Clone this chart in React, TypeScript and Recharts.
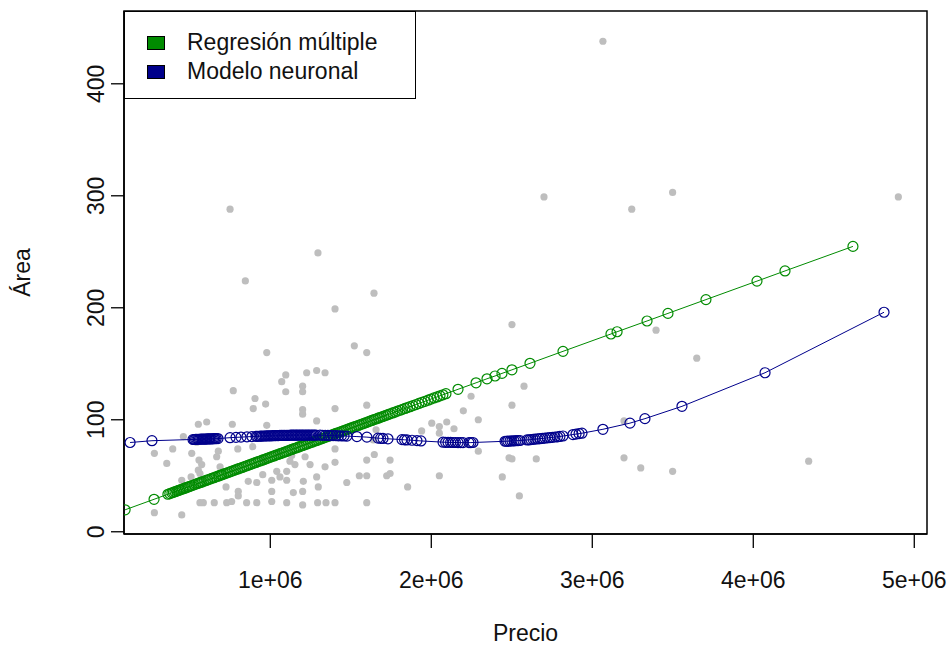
import { ScatterChart, Scatter, XAxis, YAxis, ReferenceArea, Legend } from 'recharts';

// puntos observados (Precio, Área)
const precioObs = [
  978000, 1096000, 1071000, 1226000, 1288000, 770000, 1096000, 1201000, 1201000, 905000,
  971000, 894000, 1201000, 1201000, 1288000, 553000, 605000, 764000, 460000, 394000,
  280000, 512000, 677000, 667000, 798000, 891000, 557000, 574000, 357000, 688000,
  957000, 1050000, 1133000, 1216000, 1122000, 1153000, 1247000, 553000, 563000, 450000,
  508000, 1040000, 1060000, 1102000, 1102000, 953000, 1009000, 863000, 916000, 801000,
  801000, 725000, 1205000, 1143000, 1201000, 1009000, 563000, 584000, 652000, 729000,
  760000, 853000, 916000, 1009000, 1102000, 1201000, 280000, 450000, 1522000, 1599000,
  1340000, 1402000, 1599000, 2199000, 2247000, 2292000, 2096000, 2050000, 2050000, 2141000,
  2003000, 1940000, 1657000, 2292000, 2483000, 1646000, 1599000, 1744000, 1402000, 1340000,
  1288000, 1298000, 1553000, 1599000, 1723000, 1744000, 2050000, 1475000, 1853000, 2441000,
  1294000, 1346000, 1402000, 1599000, 1402000, 750000, 1296000, 845000, 1644000, 1402000,
  2501000, 2700000, 3499000, 3245000, 4901000, 3066000, 3396000, 3649000, 2576000, 2501000,
  2501000, 2652000, 3197000, 3301000, 3499000, 4344000, 2547000, 3197000, 543000, 978000,
  1640000,
];
const areaObs = [
  160, 140, 134, 142, 144, 126, 125, 130, 125, 119,
  114, 110, 109, 105, 99, 96, 98, 96, 85, 74,
  70, 70, 72, 67, 74, 76, 64, 60, 61, 58,
  65, 70, 68, 67, 63, 60, 60, 55, 52, 46,
  49, 54, 49, 54, 46, 51, 46, 45, 44, 36,
  32, 40, 45, 35, 36, 36, 26, 26, 26, 26,
  27, 26, 26, 27, 26, 24, 17, 15, 166, 160,
  142, 110, 113, 108, 121, 100, 98, 94, 88, 92,
  97, 90, 91, 72, 66, 69, 64, 64, 62, 58,
  49, 40, 50, 50, 50, 52, 50, 44, 40, 49,
  26, 26, 26, 26, 74, 288, 249, 224, 213, 199,
  185, 299, 303, 288, 299, 438, 180, 155, 130, 113,
  65, 65, 66, 57, 54, 63, 32, 99, 80, 95,
  82,
];

// Regresión múltiple (predicciones)
const precioReg = [
  98000, 278000, 364000, 376000, 389000, 398000, 408000, 419000, 427000, 436000,
  445000, 455000, 464000, 473000, 483000, 492000, 501000, 513000, 526000, 538000,
  551000, 560000, 569000, 576000, 588000, 601000, 612000, 625000, 637000, 650000,
  662000, 675000, 684000, 693000, 700000, 712000, 725000, 737000, 750000, 762000,
  775000, 787000, 799000, 811000, 824000, 836000, 849000, 861000, 874000, 886000,
  899000, 911000, 924000, 936000, 949000, 961000, 973000, 985000, 998000, 1010000,
  1023000, 1035000, 1048000, 1060000, 1073000, 1085000, 1098000, 1110000, 1122000, 1134000,
  1147000, 1159000, 1172000, 1184000, 1197000, 1209000, 1222000, 1234000, 1247000, 1259000,
  1272000, 1284000, 1296000, 1308000, 1321000, 1333000, 1346000, 1358000, 1371000, 1383000,
  1396000, 1408000, 1421000, 1433000, 1445000, 1457000, 1470000, 1482000, 1495000, 1507000,
  1520000, 1532000, 1545000, 1557000, 1570000, 1582000, 1595000, 1607000, 1619000, 1631000,
  1644000, 1656000, 1669000, 1681000, 1694000, 1706000, 1719000, 1731000, 1744000, 1760000,
  1775000, 1790000, 1806000, 1821000, 1837000, 1852000, 1868000, 1886000, 1905000, 1923000,
  1942000, 1961000, 1980000, 1998000, 2017000, 2036000, 2054000, 2072000, 2091000, 2166000,
  2278000, 2346000, 2396000, 2439000, 2501000, 2613000, 2818000, 3116000, 3154000, 3340000,
  3470000, 3706000, 4023000, 4197000, 4619000,
];
const areaReg = [
  19.6, 29.0, 33.5, 34.1, 34.8, 35.2, 35.8, 36.3, 36.7, 37.2,
  37.7, 38.2, 38.7, 39.1, 39.7, 40.1, 40.6, 41.2, 41.9, 42.5,
  43.2, 43.7, 44.1, 44.5, 45.1, 45.8, 46.4, 47.0, 47.7, 48.3,
  49.0, 49.6, 50.1, 50.6, 50.9, 51.6, 52.2, 52.9, 53.5, 54.2,
  54.8, 55.5, 56.1, 56.7, 57.4, 58.0, 58.7, 59.3, 60.0, 60.6,
  61.3, 61.9, 62.6, 63.2, 63.9, 64.5, 65.1, 65.8, 66.4, 67.1,
  67.7, 68.4, 69.0, 69.7, 70.3, 71.0, 71.6, 72.3, 72.9, 73.5,
  74.2, 74.8, 75.5, 76.1, 76.8, 77.4, 78.1, 78.7, 79.4, 80.0,
  80.7, 81.3, 81.9, 82.6, 83.2, 83.9, 84.5, 85.2, 85.8, 86.5,
  87.1, 87.8, 88.4, 89.1, 89.7, 90.3, 91.0, 91.6, 92.3, 92.9,
  93.6, 94.2, 94.9, 95.5, 96.2, 96.8, 97.5, 98.1, 98.8, 99.4,
  100.1, 100.7, 101.4, 102.0, 102.7, 103.3, 104.0, 104.6, 105.3, 106.1,
  106.9, 107.7, 108.5, 109.3, 110.1, 110.9, 111.7, 112.6, 113.6, 114.6,
  115.6, 116.5, 117.5, 118.5, 119.5, 120.4, 121.4, 122.3, 123.3, 127.2,
  133.0, 136.6, 139.1, 141.4, 144.6, 150.4, 161.1, 176.6, 178.6, 188.2,
  195.0, 207.3, 223.8, 232.9, 254.8,
];

// Modelo neuronal (predicciones)
const precioNN = [
  129000, 265000, 520000, 528000, 536000, 544000, 552000, 560000, 568000, 576000,
  584000, 592000, 600000, 608000, 616000, 624000, 632000, 640000, 648000, 656000,
  664000, 675000, 750000, 787000, 818000, 855000, 886000, 911000, 920000, 930000,
  939000, 948000, 958000, 967000, 976000, 986000, 995000, 1005000, 1014000, 1023000,
  1032000, 1042000, 1051000, 1060000, 1070000, 1079000, 1088000, 1098000, 1107000, 1116000,
  1126000, 1135000, 1144000, 1154000, 1163000, 1172000, 1182000, 1191000, 1200000, 1209000,
  1219000, 1228000, 1237000, 1246000, 1256000, 1265000, 1274000, 1284000, 1309000, 1325000,
  1341000, 1358000, 1374000, 1390000, 1408000, 1424000, 1441000, 1458000, 1476000, 1538000,
  1600000, 1669000, 1685000, 1700000, 1731000, 1818000, 1834000, 1849000, 1880000, 1911000,
  1936000, 2073000, 2089000, 2104000, 2120000, 2135000, 2150000, 2166000, 2182000, 2197000,
  2234000, 2246000, 2259000, 2458000, 2467000, 2476000, 2489000, 2501000, 2514000, 2526000,
  2539000, 2551000, 2595000, 2607000, 2619000, 2632000, 2644000, 2660000, 2675000, 2690000,
  2706000, 2722000, 2737000, 2752000, 2768000, 2784000, 2799000, 2818000, 2880000, 2899000,
  2918000, 2936000, 3066000, 3234000, 3327000, 3557000, 4073000, 4812000,
];
const areaNN = [
  79.7, 81.3, 82.4, 82.4, 82.5, 82.5, 82.6, 82.6, 82.7, 82.7,
  82.8, 82.8, 82.8, 82.9, 82.9, 83.0, 83.0, 83.0, 83.1, 83.1,
  83.2, 83.2, 84.0, 84.3, 84.5, 84.8, 85.0, 85.2, 85.2, 85.3,
  85.4, 85.4, 85.5, 85.5, 85.6, 85.6, 85.7, 85.7, 85.8, 85.8,
  85.9, 85.9, 85.9, 86.0, 86.0, 86.0, 86.1, 86.1, 86.1, 86.1,
  86.2, 86.2, 86.2, 86.2, 86.2, 86.2, 86.3, 86.3, 86.3, 86.3,
  86.3, 86.3, 86.3, 86.3, 86.3, 86.3, 86.2, 86.2, 86.2, 86.1,
  86.1, 86.0, 85.9, 85.9, 85.8, 85.7, 85.6, 85.5, 85.4, 85.0,
  84.5, 83.6, 83.4, 83.3, 83.0, 82.3, 82.1, 82.0, 81.7, 81.4,
  81.1, 80.0, 79.9, 79.8, 79.8, 79.7, 79.7, 79.6, 79.6, 79.6,
  79.6, 79.6, 79.7, 80.8, 80.8, 80.9, 81.0, 81.1, 81.2, 81.3,
  81.4, 81.5, 82.0, 82.1, 82.3, 82.5, 82.7, 82.9, 83.1, 83.3,
  83.6, 83.8, 84.1, 84.3, 84.6, 84.8, 85.1, 85.5, 86.8, 87.2,
  87.6, 88.0, 91.5, 97.0, 101.0, 112.0, 142.0, 196.0,
];

const xTicks = [1000000, 2000000, 3000000, 4000000, 5000000];
const yTicks = [0, 100, 200, 300, 400];
const xDomain = [91300, 5079000];
const yDomain = [-2, 465];

const obs = precioObs.map((x, i) => ({ x, y: areaObs[i] }));
const reg = precioReg.map((x, i) => ({ x, y: areaReg[i] }));
const nn = precioNN.map((x, i) => ({ x, y: areaNN[i] }));

const FONT = '"Liberation Sans", Arial, sans-serif';
const FS = 23;
const INK = '#111';
const GREEN = '#008B00';
const BLUE = '#00008B';

const fmtX = (v: number) => `${v / 1000000}e+06`;

function XTick({ x, y, payload }: any) {
  return (
    <text x={x} y={y + 38} textAnchor="middle" fontFamily={FONT} fontSize={FS} fill={INK}>
      {fmtX(payload.value)}
    </text>
  );
}

function YTick({ x, y, payload }: any) {
  const bx = x - 5;
  return (
    <text x={bx} y={y} textAnchor="middle" fontFamily={FONT} fontSize={FS} fill={INK}
      transform={`rotate(-90, ${bx}, ${y})`}>
      {payload.value}
    </text>
  );
}

const dot = (props: any) => <circle cx={props.cx} cy={props.cy} r={3.6} fill="#BEBEBE" />;
const ring = (color: string) => (props: any) =>
  <circle cx={props.cx} cy={props.cy} r={5} fill="none" stroke={color} strokeWidth={1.2} />;

function LegendBox() {
  const items = [
    { label: 'Regresión múltiple', color: GREEN },
    { label: 'Modelo neuronal', color: BLUE },
  ];
  return (
    <div style={{
      width: 292, height: 88, boxSizing: 'border-box', border: '1.5px solid #000',
      background: '#fff', paddingTop: 16, fontFamily: FONT, fontSize: FS, color: INK,
    }}>
      {items.map((it) => (
        <div key={it.label} style={{ display: 'flex', alignItems: 'center', height: 29 }}>
          <span style={{
            display: 'inline-block', width: 18, height: 14, marginLeft: 22, marginRight: 22,
            background: it.color, border: '1px solid #000', boxSizing: 'border-box',
          }} />
          <span style={{ lineHeight: '29px' }}>{it.label}</span>
        </div>
      ))}
    </div>
  );
}

export default function App() {
  return (
    <div style={{ position: 'absolute', left: 0, top: 0, width: 949, height: 647, background: '#fff' }}>
      <ScatterChart width={949} height={647} margin={{ top: 11, right: 22, bottom: 0, left: 0 }}>
        <XAxis
          type="number" dataKey="x" domain={xDomain} ticks={xTicks} allowDataOverflow
          height={113} tickSize={14} interval={0}
          axisLine={{ stroke: '#000', strokeWidth: 1.5 }} tickLine={{ stroke: '#000', strokeWidth: 1.3 }}
          tick={<XTick />}
          label={{
            content: (p: any) => {
              const vb = p.viewBox;
              return (
                <text x={vb.x + vb.width / 2} y={vb.y + 107} textAnchor="middle"
                  fontFamily={FONT} fontSize={FS} fill={INK}>Precio</text>
              );
            },
          }}
        />
        <YAxis
          type="number" dataKey="y" domain={yDomain} ticks={yTicks} allowDataOverflow
          width={124} tickSize={13} interval={0}
          axisLine={{ stroke: '#000', strokeWidth: 1.5 }} tickLine={{ stroke: '#000', strokeWidth: 1.3 }}
          tick={<YTick />}
          label={{
            content: (p: any) => {
              const vb = p.viewBox;
              const cy = vb.y + vb.height / 2;
              return (
                <text x={30} y={cy} textAnchor="middle" fontFamily={FONT} fontSize={FS} fill={INK}
                  transform={`rotate(-90, 30, ${cy})`}>Área</text>
              );
            },
          }}
        />
        <ReferenceArea x1={xDomain[0]} x2={xDomain[1]} y1={yDomain[0]} y2={yDomain[1]}
          fill="none" stroke="#000" strokeWidth={1.5} ifOverflow="visible" />
        <Scatter data={obs} shape={dot} isAnimationActive={false} />
        <Scatter data={reg} shape={ring(GREEN)} line={{ stroke: GREEN, strokeWidth: 1 }}
          lineType="joint" isAnimationActive={false} />
        <Scatter data={nn} shape={ring(BLUE)} line={{ stroke: BLUE, strokeWidth: 1 }}
          lineType="joint" isAnimationActive={false} />
        <Legend
          layout="horizontal" verticalAlign="middle" align="center"
          content={<LegendBox />}
          wrapperStyle={{ position: 'absolute', top: 11, left: 124, width: 292, height: 88, margin: 0 }}
        />
      </ScatterChart>
    </div>
  );
}
